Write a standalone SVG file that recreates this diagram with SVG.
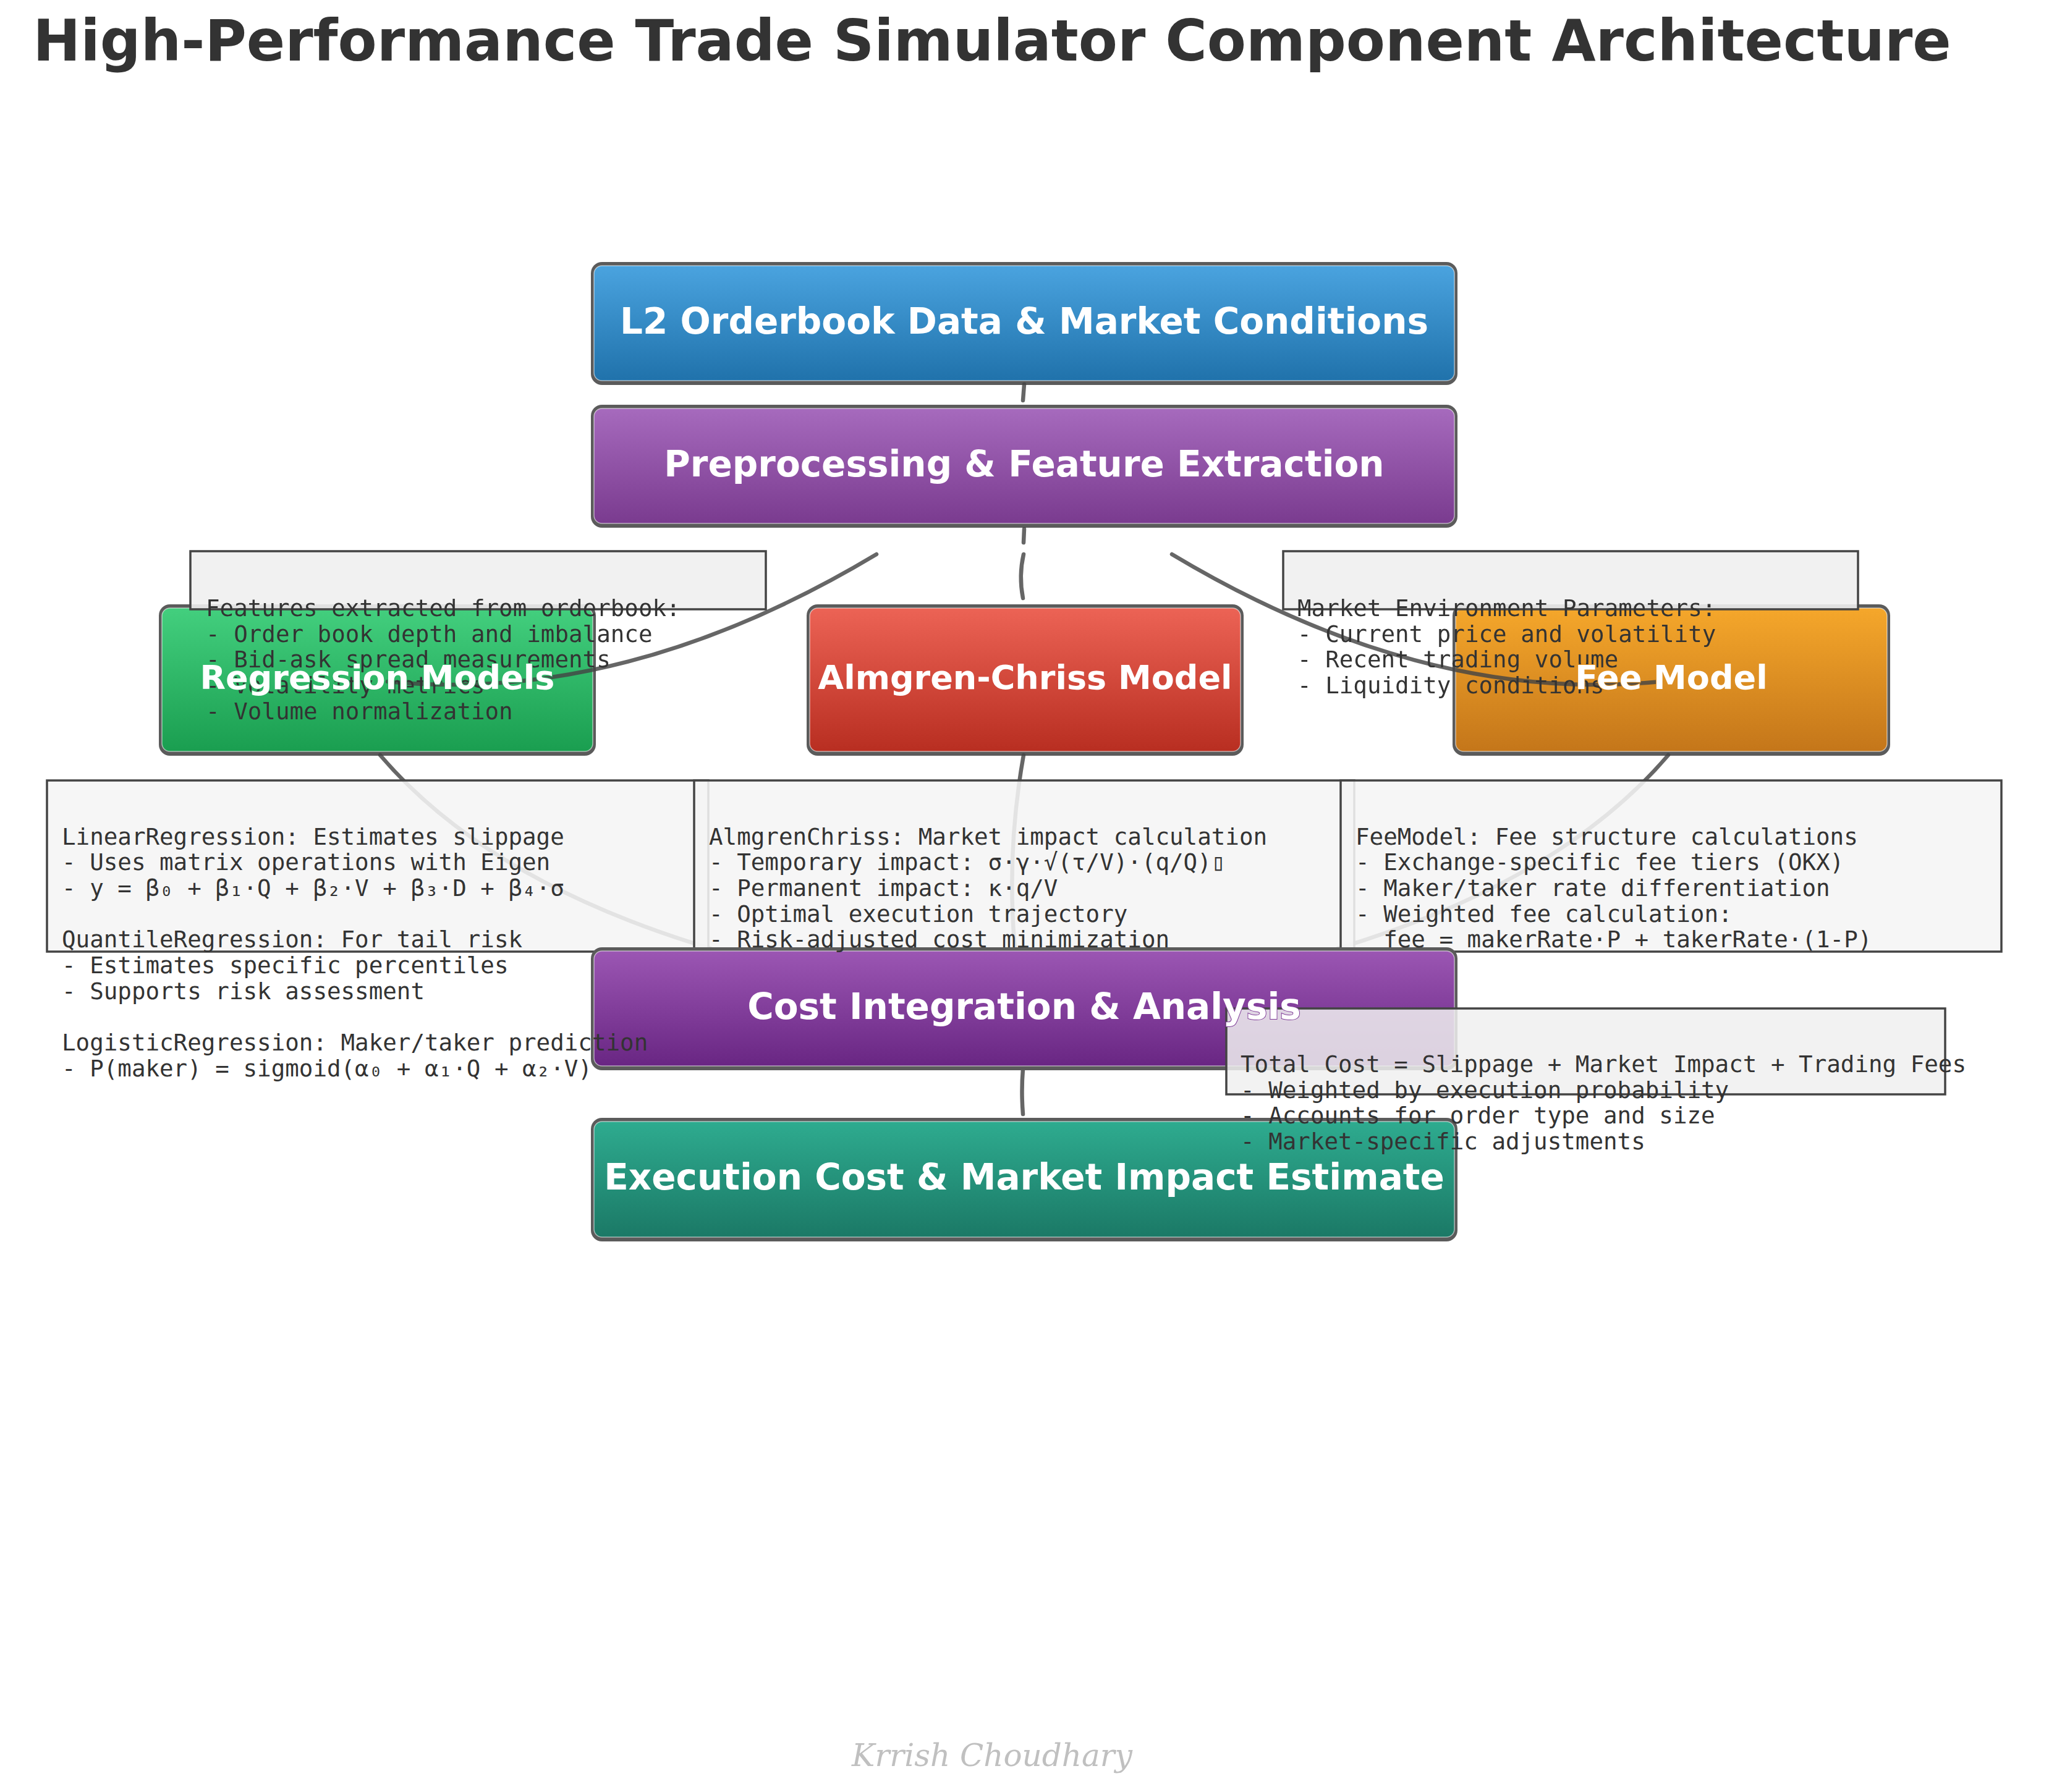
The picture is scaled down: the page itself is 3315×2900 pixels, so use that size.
<svg xmlns="http://www.w3.org/2000/svg" xmlns:xlink="http://www.w3.org/1999/xlink" width="3315" height="2900" viewBox="0 0 3315 2900">
<defs>
<linearGradient id="gBlue" x1="0" y1="0" x2="0" y2="1"><stop offset="0" stop-color="#4aa3df"/><stop offset="1" stop-color="#2072ab"/></linearGradient>
<linearGradient id="gPurple" x1="0" y1="0" x2="0" y2="1"><stop offset="0" stop-color="#a66abd"/><stop offset="1" stop-color="#7a3b8f"/></linearGradient>
<linearGradient id="gGreen" x1="0" y1="0" x2="0" y2="1"><stop offset="0" stop-color="#43cf7e"/><stop offset="1" stop-color="#1a9e50"/></linearGradient>
<linearGradient id="gRed" x1="0" y1="0" x2="0" y2="1"><stop offset="0" stop-color="#ec6355"/><stop offset="1" stop-color="#b82e21"/></linearGradient>
<linearGradient id="gOrange" x1="0" y1="0" x2="0" y2="1"><stop offset="0" stop-color="#f5a72b"/><stop offset="1" stop-color="#c4761a"/></linearGradient>
<linearGradient id="gViolet" x1="0" y1="0" x2="0" y2="1"><stop offset="0" stop-color="#9b56b3"/><stop offset="1" stop-color="#692683"/></linearGradient>
<linearGradient id="gTeal" x1="0" y1="0" x2="0" y2="1"><stop offset="0" stop-color="#2eab8f"/><stop offset="1" stop-color="#1b7966"/></linearGradient>
<mask id="mLabels" maskUnits="userSpaceOnUse" x="0" y="0" width="3315" height="2900">
<rect x="0" y="0" width="3315" height="2900" fill="#ffffff"/>
<use href="#lbl-regression" xlink:href="#lbl-regression" fill="#000000" stroke="#000000" stroke-width="2"/>
<use href="#lbl-fee" xlink:href="#lbl-fee" fill="#000000" stroke="#000000" stroke-width="2"/>
<use href="#lbl-cost" xlink:href="#lbl-cost" fill="#000000" stroke="#000000" stroke-width="2"/>
</mask>
</defs>
<style>
.frame{fill:#5b5b5b}
.body{stroke:#ffffff;stroke-opacity:.55;stroke-width:1.5}
.label{font-family:"DejaVu Sans","Liberation Sans",sans-serif;font-weight:bold;font-size:58px;text-anchor:middle}
.mid{font-size:54px}
.node{fill:#ffffff}
.conn{fill:none;stroke:#444444;stroke-opacity:.82;stroke-width:6.5;stroke-linecap:round}
.noteTop{fill:#f0f0f0;fill-opacity:.9;stroke:#444444;stroke-width:3.5}
.noteBot{fill:#f5f5f5;fill-opacity:.88;stroke:#444444;stroke-width:3.5}
.noteCost{fill:#f0f0f0;fill-opacity:.85;stroke:#444444;stroke-width:3.5}
.mono{font-family:"DejaVu Sans Mono","Liberation Mono",monospace;font-size:37.5px;fill:#333333;white-space:pre}
</style>
<rect width="3315" height="2900" fill="#ffffff"/>
<text x="1605" y="98" font-family="DejaVu Sans, Liberation Sans, sans-serif" font-weight="bold" font-size="92" fill="#333333" text-anchor="middle">High-Performance Trade Simulator Component Architecture</text>

<g id="node-l2" class="node">
<rect class="frame" x="956" y="424" width="1402" height="199" rx="18"/>
<rect class="body" x="961" y="430" width="1392" height="186" rx="13" fill="url(#gBlue)"/>
<text class="label" x="1657" y="540">L2 Orderbook Data &amp; Market Conditions</text>
</g>
<g id="node-preprocessing" class="node">
<rect class="frame" x="956" y="655" width="1402" height="199" rx="18"/>
<rect class="body" x="961" y="661" width="1392" height="186" rx="13" fill="url(#gPurple)"/>
<text class="label" x="1657" y="771">Preprocessing &amp; Feature Extraction</text>
</g>
<g id="node-regression" class="node">
<rect class="frame" x="257" y="978" width="707" height="245" rx="18"/>
<rect class="body" x="262" y="984" width="697" height="232" rx="13" fill="url(#gGreen)"/>
<text id="lbl-regression" class="label mid" x="610.5" y="1115">Regression Models</text>
</g>
<g id="node-almgren" class="node">
<rect class="frame" x="1305" y="978" width="707" height="245" rx="18"/>
<rect class="body" x="1310" y="984" width="697" height="232" rx="13" fill="url(#gRed)"/>
<text class="label mid" x="1658.5" y="1115">Almgren-Chriss Model</text>
</g>
<g id="node-fee" class="node">
<rect class="frame" x="2350" y="978" width="708" height="245" rx="18"/>
<rect class="body" x="2355" y="984" width="698" height="232" rx="13" fill="url(#gOrange)"/>
<text id="lbl-fee" class="label mid" x="2704" y="1115">Fee Model</text>
</g>

<g id="connectors" mask="url(#mLabels)">
<path class="conn" d="M1657,622 L1655,648"/>
<path class="conn" d="M1657,856 L1656,878"/>
<path class="conn" d="M1656,897 Q1648,932 1655,968"/>
<path class="conn" d="M1418,897 Q1011,1141 627,1103"/>
<path class="conn" d="M1896,897 Q2303,1141 2687,1103"/>
<path class="conn" d="M615,1222 Q790,1427 1150,1535"/>
<path class="conn" d="M1656,1222 Q1628,1380 1642,1535"/>
<path class="conn" d="M2699,1222 Q2524,1427 2164,1535"/>
<path class="conn" d="M1655,1730 Q1652,1766 1655,1803"/>
</g>

<g id="note-features">
<rect class="noteTop" x="308" y="892" width="931" height="94"/>
<text class="mono" x="333" y="997" mask="url(#mLabels)"><tspan x="333" y="997">Features extracted from orderbook:</tspan><tspan x="333" y="1038.7">- Order book depth and imbalance</tspan><tspan x="333" y="1080.3">- Bid-ask spread measurements</tspan><tspan x="333" y="1122">- Volatility metrics</tspan><tspan x="333" y="1163.6">- Volume normalization</tspan></text>
</g>
<g id="note-market">
<rect class="noteTop" x="2076" y="892" width="930" height="94"/>
<text class="mono" x="2099" y="997" mask="url(#mLabels)"><tspan x="2099" y="997">Market Environment Parameters:</tspan><tspan x="2099" y="1038.7">- Current price and volatility</tspan><tspan x="2099" y="1080.3">- Recent trading volume</tspan><tspan x="2099" y="1122">- Liquidity conditions</tspan></text>
</g>

<g id="note-regression-box">
<rect class="noteBot" x="76" y="1263" width="1070" height="277"/>
</g>
<g id="note-almgren-box">
<rect class="noteBot" x="1123" y="1263" width="1068" height="277"/>
</g>
<g id="note-fee-box">
<rect class="noteBot" x="2169" y="1263" width="1069" height="277"/>
</g>

<g id="node-cost" class="node">
<rect class="frame" x="956" y="1533" width="1402" height="199" rx="18"/>
<rect class="body" x="961" y="1539" width="1392" height="186" rx="13" fill="url(#gViolet)"/>
<text id="lbl-cost" class="label" x="1657" y="1649">Cost Integration &amp; Analysis</text>
</g>
<g id="node-execution" class="node">
<rect class="frame" x="956" y="1809" width="1402" height="200" rx="18"/>
<rect class="body" x="961" y="1815" width="1392" height="187" rx="13" fill="url(#gTeal)"/>
<text class="label" x="1657" y="1925">Execution Cost &amp; Market Impact Estimate</text>
</g>

<g id="note-cost">
<rect class="noteCost" x="1984" y="1632" width="1163" height="139" mask="url(#mLabels)"/>
<text class="mono" x="2007" y="1735"><tspan x="2007" y="1735">Total Cost = Slippage + Market Impact + Trading Fees</tspan><tspan x="2007" y="1776.7">- Weighted by execution probability</tspan><tspan x="2007" y="1818.3">- Accounts for order type and size</tspan><tspan x="2007" y="1860">- Market-specific adjustments</tspan></text>
</g>

<g id="note-texts">
<text class="mono" x="100" y="1366.7"><tspan x="100" y="1366.7">LinearRegression: Estimates slippage</tspan><tspan x="100" y="1408.3">- Uses matrix operations with Eigen</tspan><tspan x="100" y="1450">- y = β₀ + β₁·Q + β₂·V + β₃·D + β₄·σ</tspan><tspan x="100" y="1533.3">QuantileRegression: For tail risk</tspan><tspan x="100" y="1575">- Estimates specific percentiles</tspan><tspan x="100" y="1616.7">- Supports risk assessment</tspan><tspan x="100" y="1700">LogisticRegression: Maker/taker prediction</tspan><tspan x="100" y="1741.7">- P(maker) = sigmoid(α₀ + α₁·Q + α₂·V)</tspan></text>
<text class="mono" x="1147" y="1366.7"><tspan x="1147" y="1366.7">AlmgrenChriss: Market impact calculation</tspan><tspan x="1147" y="1408.3">- Temporary impact: σ·γ·√(τ/V)·(q/Q)▯</tspan><tspan x="1147" y="1450">- Permanent impact: κ·q/V</tspan><tspan x="1147" y="1491.7">- Optimal execution trajectory</tspan><tspan x="1147" y="1533.3">- Risk-adjusted cost minimization</tspan></text>
<text class="mono" x="2193" y="1366.7"><tspan x="2193" y="1366.7">FeeModel: Fee structure calculations</tspan><tspan x="2193" y="1408.3">- Exchange-specific fee tiers (OKX)</tspan><tspan x="2193" y="1450">- Maker/taker rate differentiation</tspan><tspan x="2193" y="1491.7">- Weighted fee calculation:</tspan><tspan x="2193" y="1533.3">  fee = makerRate·P + takerRate·(1-P)</tspan></text>
</g>

<text x="1605" y="2858" font-family="DejaVu Serif, Liberation Serif, serif" font-style="italic" font-size="50" fill="#c0c0c0" text-anchor="middle">Krrish Choudhary</text>
</svg>
